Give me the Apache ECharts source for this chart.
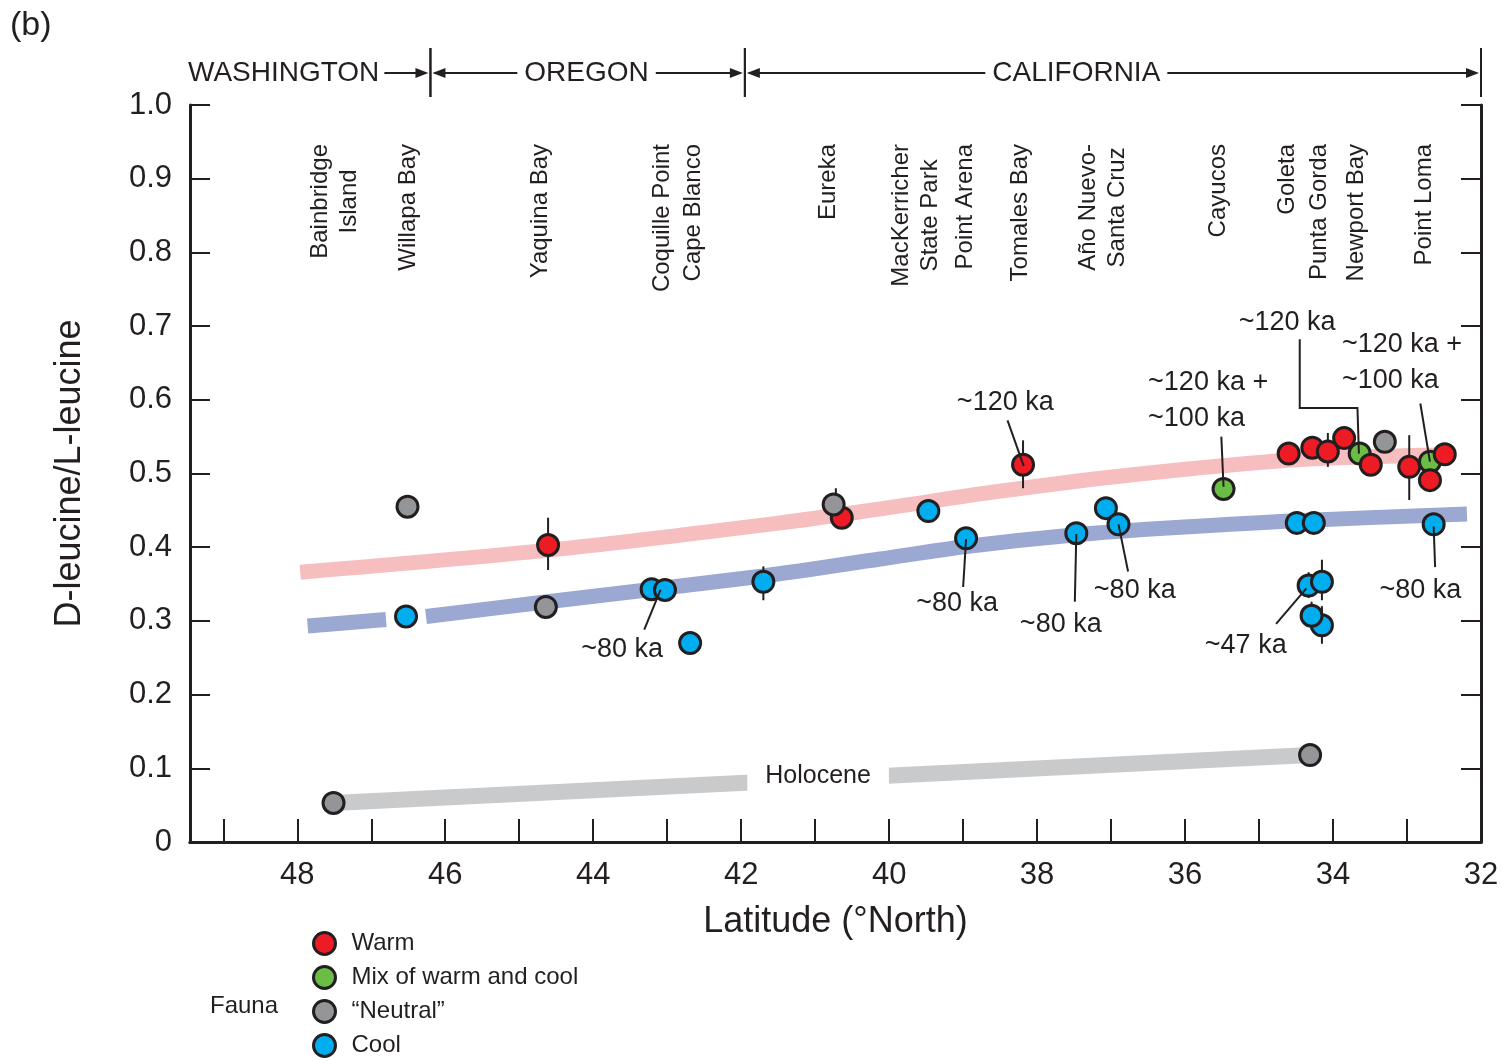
<!DOCTYPE html>
<html>
<head>
<meta charset="utf-8">
<title>D-leucine/L-leucine vs latitude</title>
<script src="https://cdn.jsdelivr.net/npm/echarts@6/dist/echarts.min.js"></script>
<style>
  html, body { margin: 0; padding: 0; background: #fff; }
  #chart { width: 1502px; height: 1061px; }
</style>
</head>
<body>
<div id="chart"></div>
<script>
const FONT = '"Liberation Sans", Arial, Helvetica, sans-serif';
const INK = '#231f20';

// Latitude extent (°N); north on the left
const latMin = 32;
const latMax = 49.45;

// Collecting localities along the coast
const siteNames = ['Bainbridge\nIsland', 'Willapa Bay', 'Yaquina Bay', 'Coquille Point', 'Cape Blanco',
  'Eureka', 'MacKerricher\nState Park', 'Point Arena', 'Tomales Bay', 'Año Nuevo-\nSanta Cruz',
  'Cayucos', 'Goleta', 'Punta Gorda', 'Newport Bay', 'Point Loma'];
const siteLat = [47.49, 46.50, 44.72, 43.07, 42.64, 40.82, 39.64, 38.97, 38.22, 37.11,
  35.55, 34.62, 34.19, 33.69, 32.76];

// States
const stateNames = ['WASHINGTON', 'OREGON', 'CALIFORNIA'];
const stateNorth = [latMax, 46.2, 41.95];
const stateSouth = [46.2, 41.95, 32];
const stateLabelLat = [latMax, 44.09, 37.47];

// Fauna groups: latitude and D/L leucine ratio
const warmLat = [44.61, 40.64, 38.19, 34.60, 34.28, 34.07, 33.85, 33.49, 32.97, 32.69, 32.49];
const warmVal = [0.403, 0.440, 0.512, 0.527, 0.535, 0.530, 0.548, 0.512, 0.509, 0.491, 0.526];

const mixLat = [35.48, 33.64, 32.69];
const mixVal = [0.479, 0.527, 0.516];

const neutralLat = [47.51, 46.51, 44.64, 40.75, 34.31, 33.30];
const neutralVal = [0.053, 0.455, 0.319, 0.458, 0.118, 0.543];

const coolLat = [46.53, 43.21, 43.03, 42.69, 41.70, 39.47, 38.96, 37.47, 37.07, 36.90,
  34.49, 34.26, 34.33, 34.15, 34.15, 34.29, 32.64];
const coolVal = [0.306, 0.343, 0.342, 0.270, 0.353, 0.449, 0.412, 0.419, 0.453, 0.431,
  0.433, 0.433, 0.348, 0.353, 0.294, 0.307, 0.431];

// Analytical uncertainty bars
const errLat  = [44.61, 38.19, 40.72, 41.70, 34.07, 32.97, 34.33, 34.15, 34.29, 34.15];
const errLow  = [0.369, 0.480, 0.427, 0.328, 0.509, 0.464, 0.331, 0.328, 0.288, 0.269];
const errHigh = [0.440, 0.545, 0.480, 0.374, 0.555, 0.552, 0.366, 0.383, 0.326, 0.320];

// Trend bands: ~120 ka (warm), ~80 ka (cool) and Holocene
const band120 = [[47.96, 0.366], [44.6, 0.396], [41.47, 0.433], [40.12, 0.452], [38.5, 0.476],
  [36.74, 0.498], [34.6, 0.518], [32.6, 0.525]];
const band80North = [[47.86, 0.293], [46.80, 0.302]];
const band80South = [[46.26, 0.306], [44.62, 0.326], [41.70, 0.361], [40.12, 0.384], [38.96, 0.401],
  [37.47, 0.417], [36.07, 0.427], [34.5, 0.436], [32.19, 0.445]];
const bandHolocene = [[47.51, 0.053], [34.31, 0.118]];
const holoceneLabel = [40.96, 0.0896];

// Age annotations with their leader lines
const annText = ['~80 ka', '~120 ka', '~80 ka', '~80 ka', '~80 ka', '~120 ka +\n~100 ka',
  '~120 ka', '~120 ka +\n~100 ka', '~80 ka', '~47 ka'];
const annLat = [43.61, 38.43, 39.08, 37.68, 36.68, 36.50, 34.62, 33.88, 32.82, 35.18];
const annVal = [0.2605, 0.5957, 0.3229, 0.2944, 0.3406, 0.5984, 0.7042, 0.650, 0.3406, 0.2659];
const annLeader = [
  [[43.31, 0.288], [43.09, 0.342]],
  [[38.40, 0.572], [38.18, 0.510]],
  [[39.00, 0.346], [38.96, 0.411]],
  [[37.49, 0.326], [37.47, 0.418]],
  [[36.77, 0.367], [36.90, 0.431]],
  [[35.51, 0.550], [35.48, 0.482]],
  [[34.45, 0.682], [34.45, 0.589], [33.67, 0.589], [33.65, 0.527]],
  [[32.82, 0.595], [32.69, 0.516]],
  [[32.62, 0.373], [32.64, 0.428]],
  [[34.77, 0.296], [34.36, 0.344]]
];

const zip = (xs, ys) => xs.map((x, i) => [x, ys[i]]);

const measureCtx = document.createElement('canvas').getContext('2d');
function textWidth(str, size) {
  measureCtx.font = size + 'px ' + FONT;
  return Math.max.apply(null, str.split('\n').map(s => measureCtx.measureText(s).width));
}

function pointSeries(name, color, lats, vals) {
  return {
    name: name, type: 'scatter', z: 4, silent: true,
    symbol: 'circle', symbolSize: 21,
    itemStyle: { color: color, borderColor: INK, borderWidth: 3, opacity: 1 },
    emphasis: { disabled: true },
    data: zip(lats, vals)
  };
}

function bandSeries(data, color, width, smooth) {
  return {
    type: 'line', z: 1, silent: true, symbol: 'none', smooth: smooth,
    lineStyle: { color: color, width: width, cap: 'butt' },
    emphasis: { disabled: true },
    data: data
  };
}

const chart = echarts.init(document.getElementById('chart'), null, { renderer: 'canvas' });

const option = {
  animation: false,
  backgroundColor: '#ffffff',
  textStyle: { fontFamily: FONT, color: INK },
  grid: { left: 190, right: 21, top: 105, bottom: 219, containLabel: false },
  xAxis: [{
    type: 'value', inverse: true, min: latMin, max: latMax, interval: 1,
    axisLine: { lineStyle: { color: INK, width: 3 } },
    axisTick: { inside: true, length: 23, lineStyle: { color: INK, width: 2 } },
    axisLabel: {
      margin: 18, fontSize: 31, color: INK, fontFamily: FONT,
      formatter: v => (Number.isInteger(v) && v % 2 === 0) ? String(v) : ''
    },
    splitLine: { show: false },
    name: 'Latitude (°North)', nameLocation: 'middle', nameGap: 62,
    nameTextStyle: { fontSize: 36, color: INK, fontFamily: FONT }
  }, {
    type: 'value', inverse: true, min: latMin, max: latMax, position: 'top',
    axisLine: { lineStyle: { color: INK, width: 3 } },
    axisTick: { show: false }, axisLabel: { show: false }, splitLine: { show: false }
  }],
  yAxis: [{
    type: 'value', min: 0, max: 1, interval: 0.1,
    axisLine: { lineStyle: { color: INK, width: 3 } },
    axisTick: { inside: true, length: 20, lineStyle: { color: INK, width: 2 } },
    axisLabel: {
      margin: 18, fontSize: 31, color: INK, fontFamily: FONT,
      formatter: v => v === 0 ? '0' : v.toFixed(1)
    },
    splitLine: { show: false },
    name: 'D-leucine/L-leucine', nameLocation: 'middle', nameGap: 102, nameRotate: 90,
    nameTextStyle: { fontSize: 36, color: INK, fontFamily: FONT }
  }, {
    type: 'value', min: 0, max: 1, interval: 0.1, position: 'right',
    axisLine: { lineStyle: { color: INK, width: 3 } },
    axisTick: { inside: true, length: 20, lineStyle: { color: INK, width: 2 } },
    axisLabel: { show: false }, splitLine: { show: false }
  }],
  legend: {
    orient: 'vertical', left: 312, top: 931, height: 150, padding: 0,
    itemWidth: 44, itemHeight: 22, itemGap: 9,
    icon: 'circle', selectedMode: false,
    itemStyle: { borderColor: INK, borderWidth: 3 },
    textStyle: { fontSize: 24, color: INK, fontFamily: FONT },
    data: ['Warm', 'Mix of warm and cool', '\u201cNeutral\u201d', 'Cool']
  },
  graphic: [
    { type: 'text', left: 10, top: 9, style: { text: '(b)', fontSize: 34, fontFamily: FONT, fill: INK } },
    { type: 'text', left: 210, top: 994, style: { text: 'Fauna', fontSize: 24, fontFamily: FONT, fill: INK } }
  ],
  series: [
    bandSeries(band120, '#f7bec0', 15, 0.3),
    bandSeries(band80North, '#9aa8d2', 15, false),
    bandSeries(band80South, '#9aa8d2', 15, 0.3),
    bandSeries(bandHolocene, '#c9cacb', 16, false),
    {
      // Holocene label sitting in a break of its band
      type: 'custom', z: 2, silent: true,
      data: [holoceneLabel],
      renderItem: function (params, api) {
        const p = api.coord([api.value(0), api.value(1)]);
        return {
          type: 'text', x: p[0], y: p[1],
          style: {
            text: 'Holocene', fontSize: 25, fontFamily: FONT, fill: INK,
            align: 'center', verticalAlign: 'middle',
            backgroundColor: '#fff', padding: [6, 18]
          }
        };
      }
    },
    {
      // uncertainty bars
      type: 'custom', z: 3, silent: true,
      data: errLat.map((lat, i) => [lat, errLow[i], errHigh[i]]),
      renderItem: function (params, api) {
        const a = api.coord([api.value(0), api.value(1)]);
        const b = api.coord([api.value(0), api.value(2)]);
        return {
          type: 'line', shape: { x1: a[0], y1: a[1], x2: b[0], y2: b[1] },
          style: { stroke: INK, lineWidth: 2 }
        };
      }
    },
    pointSeries('Mix of warm and cool', '#6abd45', mixLat, mixVal),
    pointSeries('Warm', '#ed1c24', warmLat, warmVal),
    pointSeries('\u201cNeutral\u201d', '#939598', neutralLat, neutralVal),
    pointSeries('Cool', '#00aeef', coolLat, coolVal),
    {
      // age annotations and leader lines
      type: 'custom', z: 6, silent: true,
      data: zip(annLat, annVal),
      renderItem: function (params, api) {
        const i = params.dataIndex;
        const pts = annLeader[i].map(d => api.coord(d));
        const p = api.coord([api.value(0), api.value(1)]);
        const multi = annText[i].indexOf('\n') >= 0;
        return {
          type: 'group',
          children: [
            { type: 'polyline', shape: { points: pts }, style: { stroke: INK, lineWidth: 2, fill: null } },
            {
              type: 'text', x: p[0], y: p[1],
              style: {
                text: annText[i], fontSize: 27, fontFamily: FONT, fill: INK,
                align: multi ? 'left' : 'center', verticalAlign: 'middle', lineHeight: 36
              }
            }
          ]
        };
      }
    },
    {
      // locality names, written upward along the top of the plot
      type: 'custom', z: 6, silent: true,
      data: siteLat.map(lat => [lat, 1]),
      renderItem: function (params, api) {
        const i = params.dataIndex;
        const x = api.coord([api.value(0), 1])[0];
        const w = textWidth(siteNames[i], 24);
        const yTop = params.coordSys.y + 39;
        return {
          type: 'text', x: x, y: yTop + w / 2, rotation: Math.PI / 2,
          style: {
            text: siteNames[i], fontSize: 24, fontFamily: FONT, fill: INK,
            align: 'center', verticalAlign: 'middle', lineHeight: 29
          }
        };
      }
    },
    {
      // state boundaries above the plot
      type: 'custom', z: 6, silent: true,
      data: stateNames.map((s, i) => [stateSouth[i], 1]),
      renderItem: function (params, api) {
        const i = params.dataIndex;
        const top = params.coordSys.y;
        const y = top - 32;
        const xN = api.coord([stateNorth[i], 1])[0];
        const xS = api.coord([stateSouth[i], 1])[0];
        const lineStyle = { stroke: INK, lineWidth: 2 };
        const children = [
          { type: 'line', shape: { x1: xS, y1: top - 57, x2: xS, y2: top - 8 }, style: lineStyle },
          { type: 'line', shape: { x1: xN + (i === 0 ? 10 : 4), y1: y, x2: xS - 6, y2: y }, style: lineStyle },
          { type: 'polygon', shape: { points: [[xS - 2, y], [xS - 15, y - 5], [xS - 15, y + 5]] }, style: { fill: INK } }
        ];
        if (i > 0) {
          children.push({ type: 'line', shape: { x1: xN, y1: top - 57, x2: xN, y2: top - 8 }, style: lineStyle });
          children.push({ type: 'polygon', shape: { points: [[xN + 2, y], [xN + 15, y - 5], [xN + 15, y + 5]] }, style: { fill: INK } });
        }
        const xl = i === 0 ? xN - 2 : api.coord([stateLabelLat[i], 1])[0];
        children.push({
          type: 'text', x: xl, y: y,
          style: {
            text: stateNames[i], fontSize: 28, fontFamily: FONT, fill: INK,
            align: i === 0 ? 'left' : 'center', verticalAlign: 'middle',
            backgroundColor: '#fff', padding: i === 0 ? [2, 5, 2, 0] : [2, 7]
          }
        });
        return { type: 'group', children: children };
      }
    }
  ]
};

chart.setOption(option);
</script>
</body>
</html>
